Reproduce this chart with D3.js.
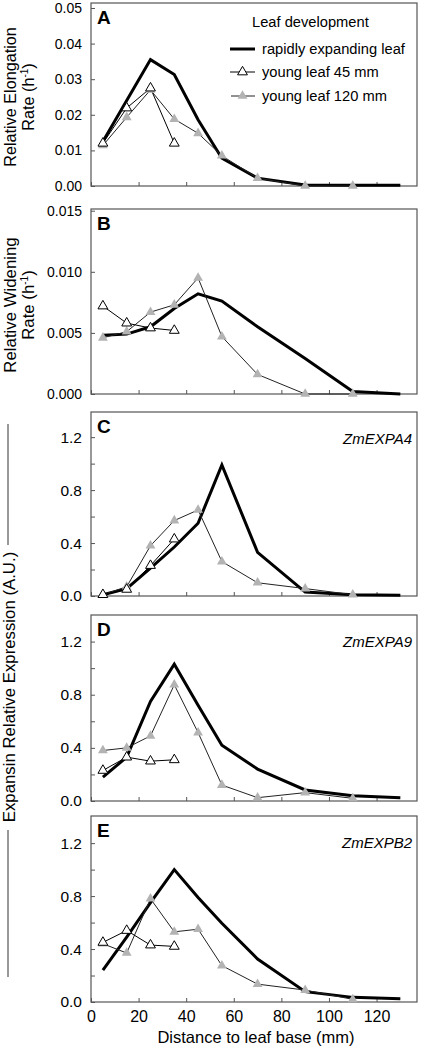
<!DOCTYPE html>
<html><head><meta charset="utf-8">
<script src="https://cdn.jsdelivr.net/npm/d3@7/dist/d3.min.js"></script>
<style>body{margin:0;background:#fff}svg{display:block}text{font-family:"Liberation Sans",Arial,sans-serif;fill:#000}</style>
</head><body><svg id="c" width="423" height="1049"></svg>
<script>
// ---- data ----
const xRapid = [5, 15, 25, 35, 45, 55, 70, 90, 110, 130];
const x45 = [5, 15, 25, 35];
const x120 = [5, 15, 25, 35, 45, 55, 70, 90, 110];

const rapidA = [0.0125, 0.0240, 0.0355, 0.0313, 0.0186, 0.0078, 0.0022, 0.0003, 0.0002, 0.0002];
const young45A = [0.0120, 0.0219, 0.0275, 0.0120];
const young120A = [0.0114, 0.0193, 0.0270, 0.0188, 0.0148, 0.0085, 0.0022, 0.0000, 0.0000];

const rapidB = [0.0048, 0.0049, 0.0055, 0.0070, 0.0082, 0.0076, 0.0055, 0.0029, 0.0002, 0.0000];
const young45B = [0.0072, 0.0058, 0.0054, 0.0052];
const young120B = [0.0046, 0.0051, 0.0067, 0.0073, 0.0095, 0.0047, 0.0016, 0.0000, 0.0000];

const rapidC = [0.01, 0.056, 0.21, 0.37, 0.55, 0.99, 0.33, 0.03, 0.01, 0.005];
const young45C = [0.01, 0.05, 0.23, 0.43];
const young120C = [0.01, 0.07, 0.38, 0.57, 0.65, 0.26, 0.10, 0.056, 0.01];

const rapidD = [0.18, 0.33, 0.75, 1.03, 0.72, 0.42, 0.24, 0.083, 0.04, 0.025];
const young45D = [0.23, 0.33, 0.30, 0.31];
const young120D = [0.38, 0.40, 0.49, 0.875, 0.515, 0.12, 0.025, 0.063, 0.02];

const rapidE = [0.24, 0.49, 0.75, 1.0, 0.79, 0.595, 0.325, 0.078, 0.035, 0.025];
const young45E = [0.45, 0.54, 0.43, 0.42];
const young120E = [0.44, 0.37, 0.78, 0.53, 0.55, 0.275, 0.135, 0.09, 0.02];

const xTicks = [0, 20, 40, 60, 80, 100, 120];
const yTicksA = [0, 0.01, 0.02, 0.03, 0.04, 0.05];
const yTicksB = [0, 0.005, 0.010, 0.015];
const yTicksExpr = [0, 0.4, 0.8, 1.2];
const yMinorExpr = [0.2, 0.6, 1.0];
const panelLetters = ["A", "B", "C", "D", "E"];
const geneNames = [null, null, "ZmEXPA4", "ZmEXPA9", "ZmEXPB2"];
const legendTitle = "Leaf development";
const seriesNames = ["rapidly expanding leaf", "young leaf 45 mm", "young leaf 120 mm"];
const xTitle = "Distance to leaf base (mm)";
const exprTitle = "Expansin Relative Expression (A.U.)";

// ---- layout ----
const svg = d3.select("#c");
const FONT = '"Liberation Sans",Arial,sans-serif';
const left = 91, right = 417;
const x = d3.scaleLinear().domain([0, 137]).range([left, right]);
const GRAY = "#b3b3b3";
const FRAME = "#555";

const panels = [
  {top: 3, bottom: 186, ymax: 0.0514, ticks: yTicksA, minor: [], fmt: d3.format(".2f"), fs: 14, rapid: rapidA, y45: young45A, y120: young120A},
  {top: 209, bottom: 394, ymax: 0.01514, ticks: yTicksB, minor: [], fmt: d3.format(".3f"), fs: 14, rapid: rapidB, y45: young45B, y120: young120B},
  {top: 412, bottom: 596, ymax: 1.39, ticks: yTicksExpr, minor: yMinorExpr, fmt: d3.format(".1f"), fs: 15.5, rapid: rapidC, y45: young45C, y120: young120C},
  {top: 615, bottom: 801, ymax: 1.40, ticks: yTicksExpr, minor: yMinorExpr, fmt: d3.format(".1f"), fs: 15.5, rapid: rapidD, y45: young45D, y120: young120D},
  {top: 816, bottom: 1002, ymax: 1.405, ticks: yTicksExpr, minor: yMinorExpr, fmt: d3.format(".1f"), fs: 15.5, rapid: rapidE, y45: young45E, y120: young120E}
];

const tri = d3.symbol().type(d3.symbolTriangle).size(42);

panels.forEach((p, i) => {
  const y = d3.scaleLinear().domain([0, p.ymax]).range([p.bottom, p.top]);
  const g = svg.append("g");
  const ya = g.append("g").attr("transform", `translate(${left},0)`)
    .call(d3.axisLeft(y).tickValues(p.ticks).tickFormat(p.fmt).tickSizeInner(-4).tickSizeOuter(0).tickPadding(9));
  ya.select(".domain").remove();
  ya.selectAll("line").attr("stroke", FRAME);
  ya.selectAll("text").style("font-family", FONT).style("font-size", p.fs + "px").attr("fill", "#000");
  if (p.minor.length) {
    g.append("g").attr("transform", `translate(${left},0)`)
      .call(d3.axisLeft(y).tickValues(p.minor).tickFormat("").tickSizeInner(-4).tickSizeOuter(0))
      .call(s => { s.select(".domain").remove(); s.selectAll("line").attr("stroke", FRAME); });
  }
  const xa = g.append("g").attr("transform", `translate(0,${p.bottom})`)
    .call(d3.axisBottom(x).tickValues(xTicks).tickSizeInner(-4).tickSizeOuter(0).tickPadding(9)
      .tickFormat(i === 4 ? d3.format("d") : ""));
  xa.select(".domain").remove();
  xa.selectAll("line").attr("stroke", FRAME);
  xa.selectAll("text").style("font-family", FONT).style("font-size", "16px").attr("fill", "#000");
  g.append("rect").attr("x", left).attr("y", p.top).attr("width", right - left).attr("height", p.bottom - p.top)
    .attr("fill", "none").attr("stroke", FRAME).attr("stroke-width", 1.2);

  const line = d3.line().x(d => x(d[0])).y(d => y(d[1]));
  const rapid = xRapid.map((v, k) => [v, p.rapid[k]]);
  const s45 = x45.map((v, k) => [v, p.y45[k]]);
  const s120 = x120.map((v, k) => [v, p.y120[k]]);

  g.append("path").attr("d", line(rapid)).attr("fill", "none").attr("stroke", "#000").attr("stroke-width", 3).attr("stroke-linejoin", "miter");
  g.append("path").attr("d", line(s120)).attr("fill", "none").attr("stroke", "#222").attr("stroke-width", 1);
  g.append("path").attr("d", line(s45)).attr("fill", "none").attr("stroke", "#000").attr("stroke-width", 1);
  g.selectAll(".m120").data(s120).join("path").attr("d", tri)
    .attr("transform", d => `translate(${x(d[0])},${y(d[1])})`).attr("fill", GRAY);
  g.selectAll(".m45").data(s45).join("path").attr("d", tri)
    .attr("transform", d => `translate(${x(d[0])},${y(d[1])})`).attr("fill", "#fff").attr("stroke", "#000").attr("stroke-width", 1);

  g.append("text").attr("x", 97).attr("y", p.top + 21).text(panelLetters[i])
    .style("font-size", "19px").style("font-weight", "bold");
  if (geneNames[i]) {
    g.append("text").attr("x", 412).attr("y", p.top + 32).attr("text-anchor", "end")
      .style("font-size", "15px").style("font-style", "italic").text(geneNames[i]);
  }
});

function yTitle(cy, l1, fs) {
  const t = svg.append("g").attr("transform", `translate(0,${cy}) rotate(-90)`);
  t.append("text").attr("x", 0).attr("y", 16).attr("text-anchor", "middle").style("font-size", fs + "px").text(l1);
  const t2 = t.append("text").attr("x", 0).attr("y", 34).attr("text-anchor", "middle").style("font-size", fs + "px");
  t2.append("tspan").text("Rate (h");
  t2.append("tspan").attr("dy", -6).style("font-size", "10px").text("-1");
  t2.append("tspan").attr("dy", 6).text(")");
}
yTitle(97, "Relative Elongation", 16.2);
yTitle(305, "Relative Widening", 16.8);

svg.append("text").attr("transform", `translate(15,687) rotate(-90)`).attr("text-anchor", "middle")
  .style("font-size", "16.8px").text(exprTitle);
svg.append("line").attr("x1", 8).attr("x2", 8).attr("y1", 424).attr("y2", 545).attr("stroke", "#333").attr("stroke-width", 1);
svg.append("line").attr("x1", 8).attr("x2", 8).attr("y1", 830).attr("y2", 977).attr("stroke", "#333").attr("stroke-width", 1);

svg.append("text").attr("x", 256).attr("y", 1043).attr("text-anchor", "middle").style("font-size", "16.5px").text(xTitle);

const lg = svg.append("g");
lg.append("text").attr("x", 252).attr("y", 27).style("font-size", "14.7px").text(legendTitle);
const legY = [49, 72, 96];
legY.forEach((ly, k) => {
  lg.append("text").attr("x", 262).attr("y", ly + 5).style("font-size", "14.7px").text(seriesNames[k]);
});
lg.append("line").attr("x1", 230).attr("x2", 255).attr("y1", legY[0]).attr("y2", legY[0]).attr("stroke", "#000").attr("stroke-width", 3);
lg.append("line").attr("x1", 230).attr("x2", 255).attr("y1", legY[1]).attr("y2", legY[1]).attr("stroke", "#000").attr("stroke-width", 1);
lg.append("path").attr("d", tri).attr("transform", `translate(242.5,${legY[1]})`).attr("fill", "#fff").attr("stroke", "#000");
lg.append("line").attr("x1", 231).attr("x2", 255).attr("y1", legY[2]).attr("y2", legY[2]).attr("stroke", "#222").attr("stroke-width", 1);
lg.append("path").attr("d", tri).attr("transform", `translate(242.5,${legY[2]})`).attr("fill", GRAY);
</script></body></html>
